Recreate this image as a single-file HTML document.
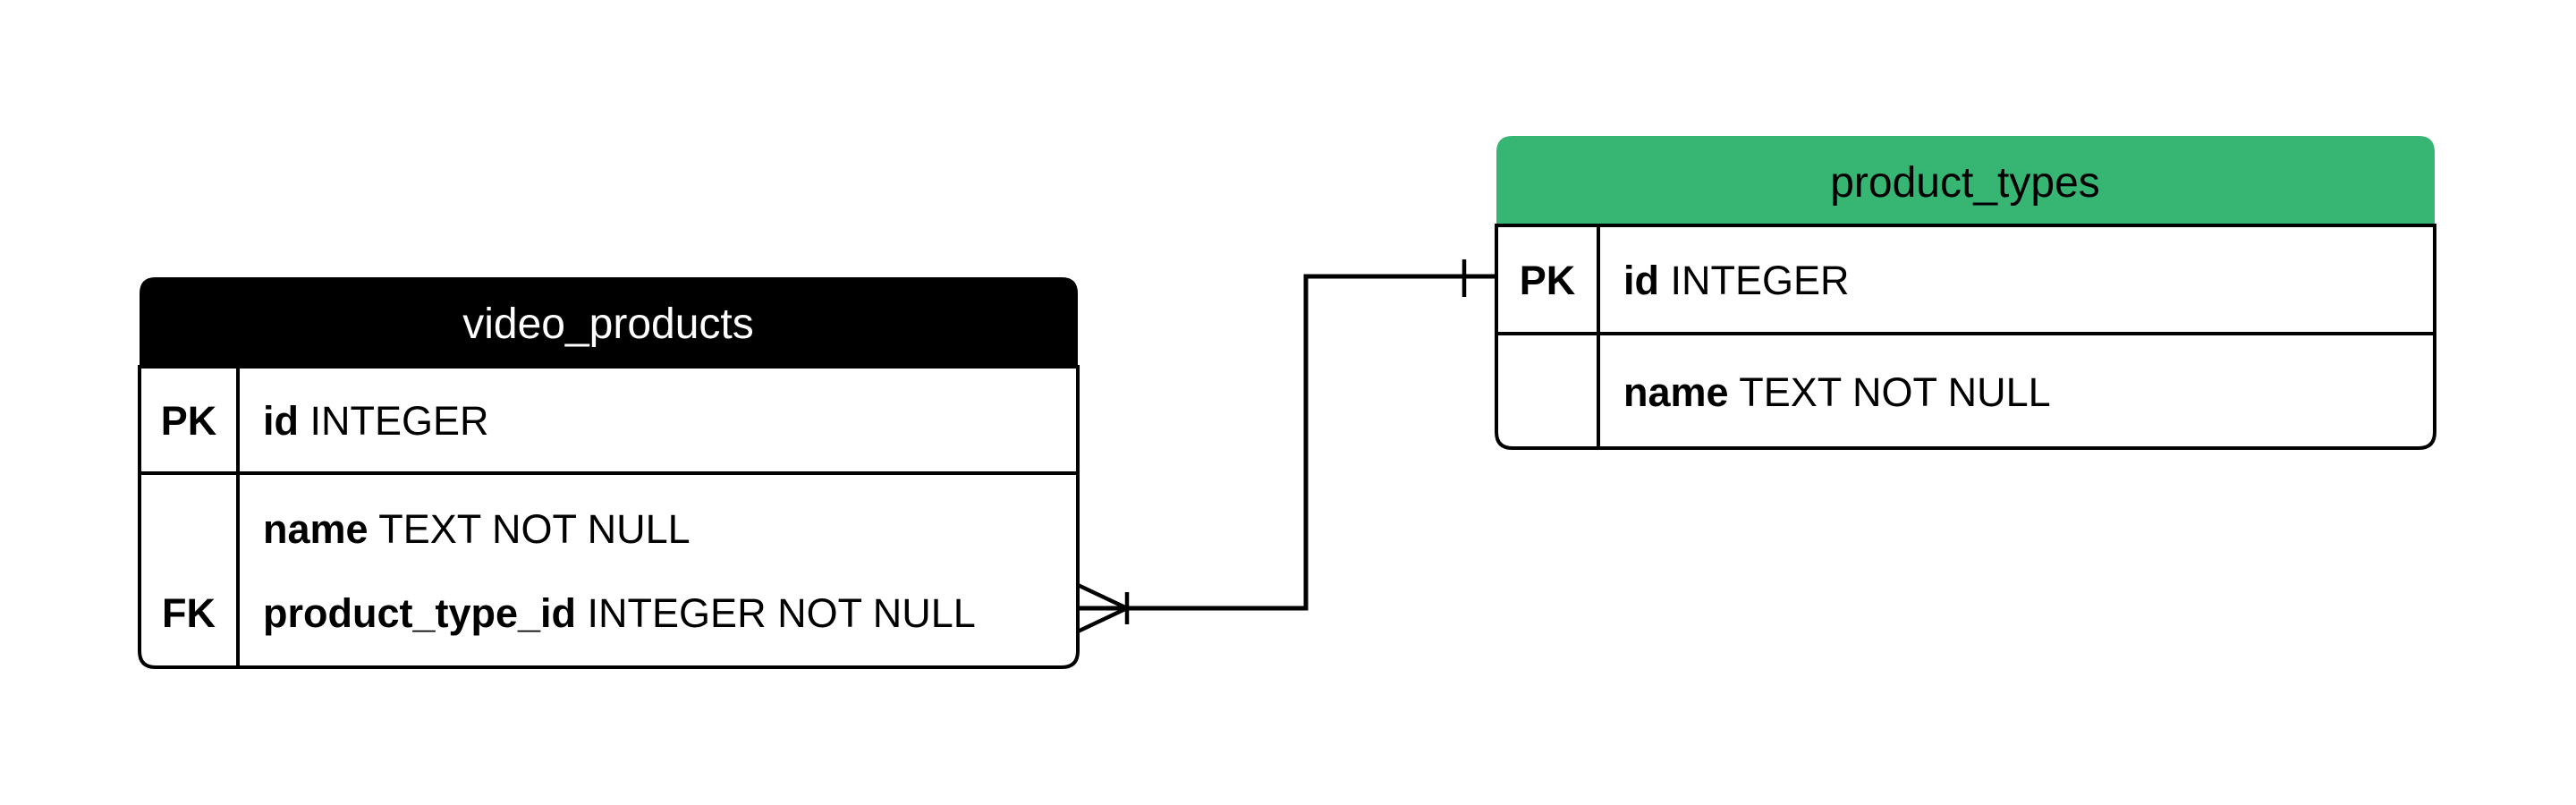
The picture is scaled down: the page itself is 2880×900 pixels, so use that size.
<!DOCTYPE html>
<html><head><meta charset="utf-8"><style>
html,body{margin:0;padding:0;background:#fff}
svg{display:block}
text{font-family:"Liberation Sans",sans-serif;font-size:45px;fill:#000}
.t{font-size:48px}
.b{font-weight:bold}
</style></head><body>
<svg width="2880" height="900" viewBox="0 0 2880 900" xmlns="http://www.w3.org/2000/svg">
<!-- left table -->
<path d="M156 410 V328 Q156 310 174 310 H1187 Q1205 310 1205 328 V410 Z" fill="#000"/>
<path d="M156 410 H1205 V728 Q1205 746 1187 746 H174 Q156 746 156 728 Z" fill="#fff" stroke="#000" stroke-width="4"/>
<line x1="156" y1="529" x2="1205" y2="529" stroke="#000" stroke-width="4"/>
<line x1="266" y1="410" x2="266" y2="746" stroke="#000" stroke-width="4"/>
<text x="680" y="378" text-anchor="middle" class="t" style="fill:#fff">video_products</text>
<text x="211" y="486" text-anchor="middle" class="b">PK</text>
<text x="294" y="486"><tspan class="b">id</tspan> INTEGER</text>
<text x="294" y="607"><tspan class="b">name</tspan> TEXT NOT NULL</text>
<text x="211" y="701" text-anchor="middle" class="b">FK</text>
<text x="294" y="701"><tspan class="b">product_type_id</tspan> INTEGER NOT NULL</text>
<!-- right table -->
<path d="M1673 252 V170 Q1673 152 1691 152 H2704 Q2722 152 2722 170 V252 Z" fill="#36b573"/>
<path d="M1673 252 H2722 V483 Q2722 501 2704 501 H1691 Q1673 501 1673 483 Z" fill="#fff" stroke="#000" stroke-width="4"/>
<line x1="1673" y1="373" x2="2722" y2="373" stroke="#000" stroke-width="4"/>
<line x1="1787" y1="252" x2="1787" y2="501" stroke="#000" stroke-width="4"/>
<text x="2197" y="220" text-anchor="middle" class="t">product_types</text>
<text x="1730" y="329" text-anchor="middle" class="b">PK</text>
<text x="1815" y="329"><tspan class="b">id</tspan> INTEGER</text>
<text x="1815" y="454"><tspan class="b">name</tspan> TEXT NOT NULL</text>
<!-- connector -->
<polyline points="1205,680 1460,680 1460,309 1673,309" fill="none" stroke="#000" stroke-width="5"/>
<line x1="1205" y1="654" x2="1260" y2="680" stroke="#000" stroke-width="4.5"/>
<line x1="1205" y1="706" x2="1260" y2="680" stroke="#000" stroke-width="4.5"/>
<line x1="1260" y1="662" x2="1260" y2="698" stroke="#000" stroke-width="4.5"/>
<line x1="1637" y1="290" x2="1637" y2="332" stroke="#000" stroke-width="4.5"/>
</svg>
</body></html>
